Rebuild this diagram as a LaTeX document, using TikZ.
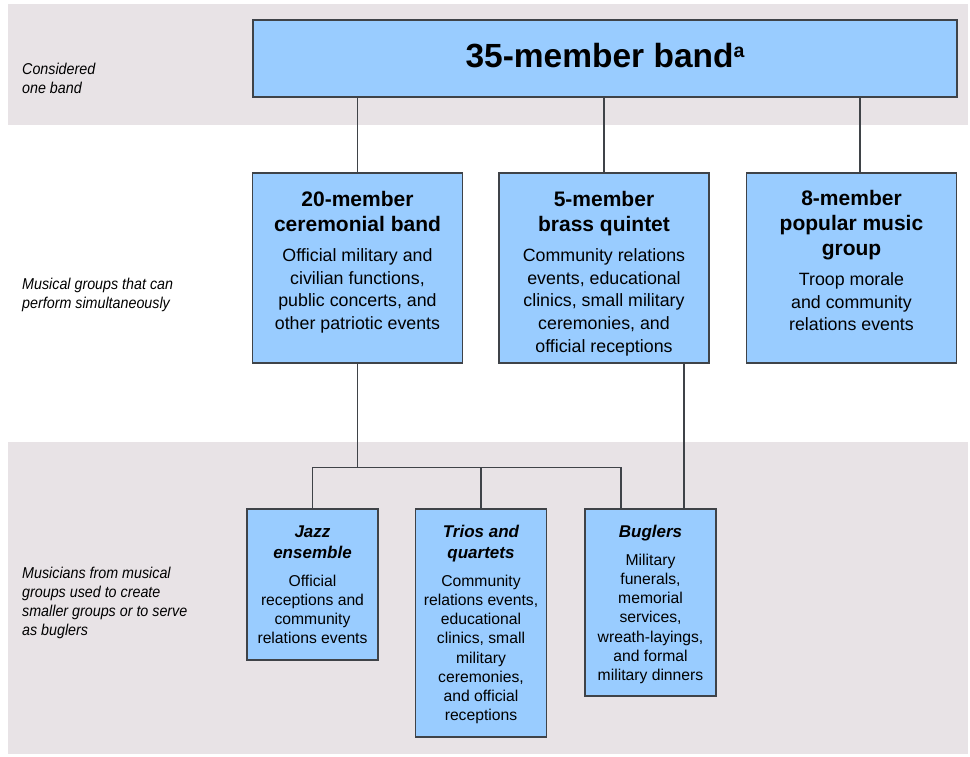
\documentclass[tikz,border=0pt]{standalone}
\usepackage{fontspec}
\setmainfont{Liberation Sans}
\newfontfamily\narrowsans[FakeStretch=0.91]{Liberation Sans}
\usepackage{xcolor}
\usepackage{tikz}
\usetikzlibrary{calc,positioning}
\definecolor{bandgray}{HTML}{E8E3E6}
\definecolor{boxblue}{HTML}{99CCFF}
\definecolor{edgegray}{HTML}{3F4348}
\newcommand{\midgrp}[2]{\parbox[t]{205pt}{\centering\fontsize{21}{25}\selectfont\bfseries #1\par\vspace{7.2pt}\fontsize{17.8}{22.8}\selectfont\mdseries #2\par}}
\newcommand{\smallgrp}[2]{\parbox[t]{128pt}{\centering\fontsize{17}{21}\selectfont\bfseries\itshape #1\par\vspace{8.8pt}\fontsize{15.7}{19.2}\selectfont\mdseries\upshape #2\par}}
\newcommand{\tiertext}[1]{\parbox[t]{220pt}{\raggedright\narrowsans\itshape\fontsize{15.7}{19.3}\selectfont #1\par}}

\begin{document}
\begin{tikzpicture}[x=1pt, y=-1pt,
    grp/.style={draw=edgegray, fill=boxblue, line width=1.5pt, inner sep=0pt},
    txt/.style={anchor=base, inner sep=0pt},
    tier/.style={anchor=base west, inner sep=0pt},
    link/.style={draw=edgegray, line width=1.3pt}]
    \useasboundingbox (0,0) rectangle (970,756);

    % BACKGROUND: shaded tiers
    \fill[bandgray] (8,4) rectangle (968,125);
    \fill[bandgray] (8,442) rectangle (968,754);

    % LEFT: tier labels
    \node[tier] (t1) at (22,74) {\tiertext{Considered\\one band}};
    \node[tier] (t2) at (22,289) {\tiertext{Musical groups that can\\perform simultaneously}};
    \node[tier] (t3) at (22,578) {\tiertext{Musicians from musical\\groups used to create\\smaller groups or to serve\\as buglers}};

    % TOP: whole band
    \node[grp, minimum width=704, minimum height=77] (band) at (605,58.5) {};
    \node[txt, font=\bfseries\fontsize{33.5}{38}\selectfont] (band-t) at ($(band.north)+(0,48)$)
        {35-member band\raisebox{9.5pt}{\fontsize{19.5}{20}\selectfont a}};

    % MIDDLE: groups that play at the same time
    \node[grp, minimum width=210, minimum height=190] (cer) at (357.5,268) {};
    \node[grp, minimum width=210, minimum height=190] (quin) at (604,268) {};
    \node[grp, minimum width=210, minimum height=190] (pop) at (851.5,268) {};
    \node[txt] (cer-t) at ($(cer.north)+(0,34)$) {\midgrp{20-member\\ceremonial band}
        {Official military and\\civilian functions,\\public concerts, and\\other patriotic events}};
    \node[txt] (quin-t) at ($(quin.north)+(0,34)$) {\midgrp{5-member\\brass quintet}
        {Community relations\\events, educational\\clinics, small military\\ceremonies, and\\official receptions}};
    \node[txt] (pop-t) at ($(pop.north)+(0,33)$) {\midgrp{8-member\\popular music\\group}
        {Troop morale\\and community\\relations events}};

    % BOTTOM: smaller groups
    \node[grp, minimum width=131, minimum height=151] (jazz) at (312.5,584.5) {};
    \node[grp, minimum width=131, minimum height=228] (trio) at (481,623) {};
    \node[grp, minimum width=131, minimum height=187] (bugl) at (650.5,602.5) {};
    \node[txt] (jazz-t) at ($(jazz.north)+(0,29)$) {\smallgrp{Jazz\\ensemble}
        {Official\\receptions and\\community\\relations events}};
    \node[txt] (trio-t) at ($(trio.north)+(0,29)$) {\smallgrp{Trios and\\quartets}
        {Community\\relations events,\\educational\\clinics, small\\military\\ceremonies,\\and official\\receptions}};
    \node[txt] (bugl-t) at ($(bugl.north)+(0,29)$) {\smallgrp{Buglers}
        {Military\\funerals,\\memorial\\services,\\wreath-layings,\\and formal\\military dinners}};

    % Connectors
    \coordinate (popin) at ($(pop.north)+(8.5,0)$);
    \draw[link] (band.south -| cer.north) -- (cer.north);
    \draw[link] (band.south -| quin.north) -- (quin.north);
    \draw[link] (band.south -| popin) -- (popin);

    \coordinate (split) at ($(cer.south)+(0,104)$);
    \coordinate (buglin) at ($(bugl.north)+(-29.5,0)$);
    \draw[link] (cer.south) -- (split);
    \draw[link] (jazz.north) |- (buglin |- split) -- (buglin);
    \draw[link] (trio.north) -- (trio.north |- split);

    \coordinate (quinout) at ($(quin.south)+(80,0)$);
    \draw[link] (quinout) -- (quinout |- bugl.north);
\end{tikzpicture}
\end{document}
